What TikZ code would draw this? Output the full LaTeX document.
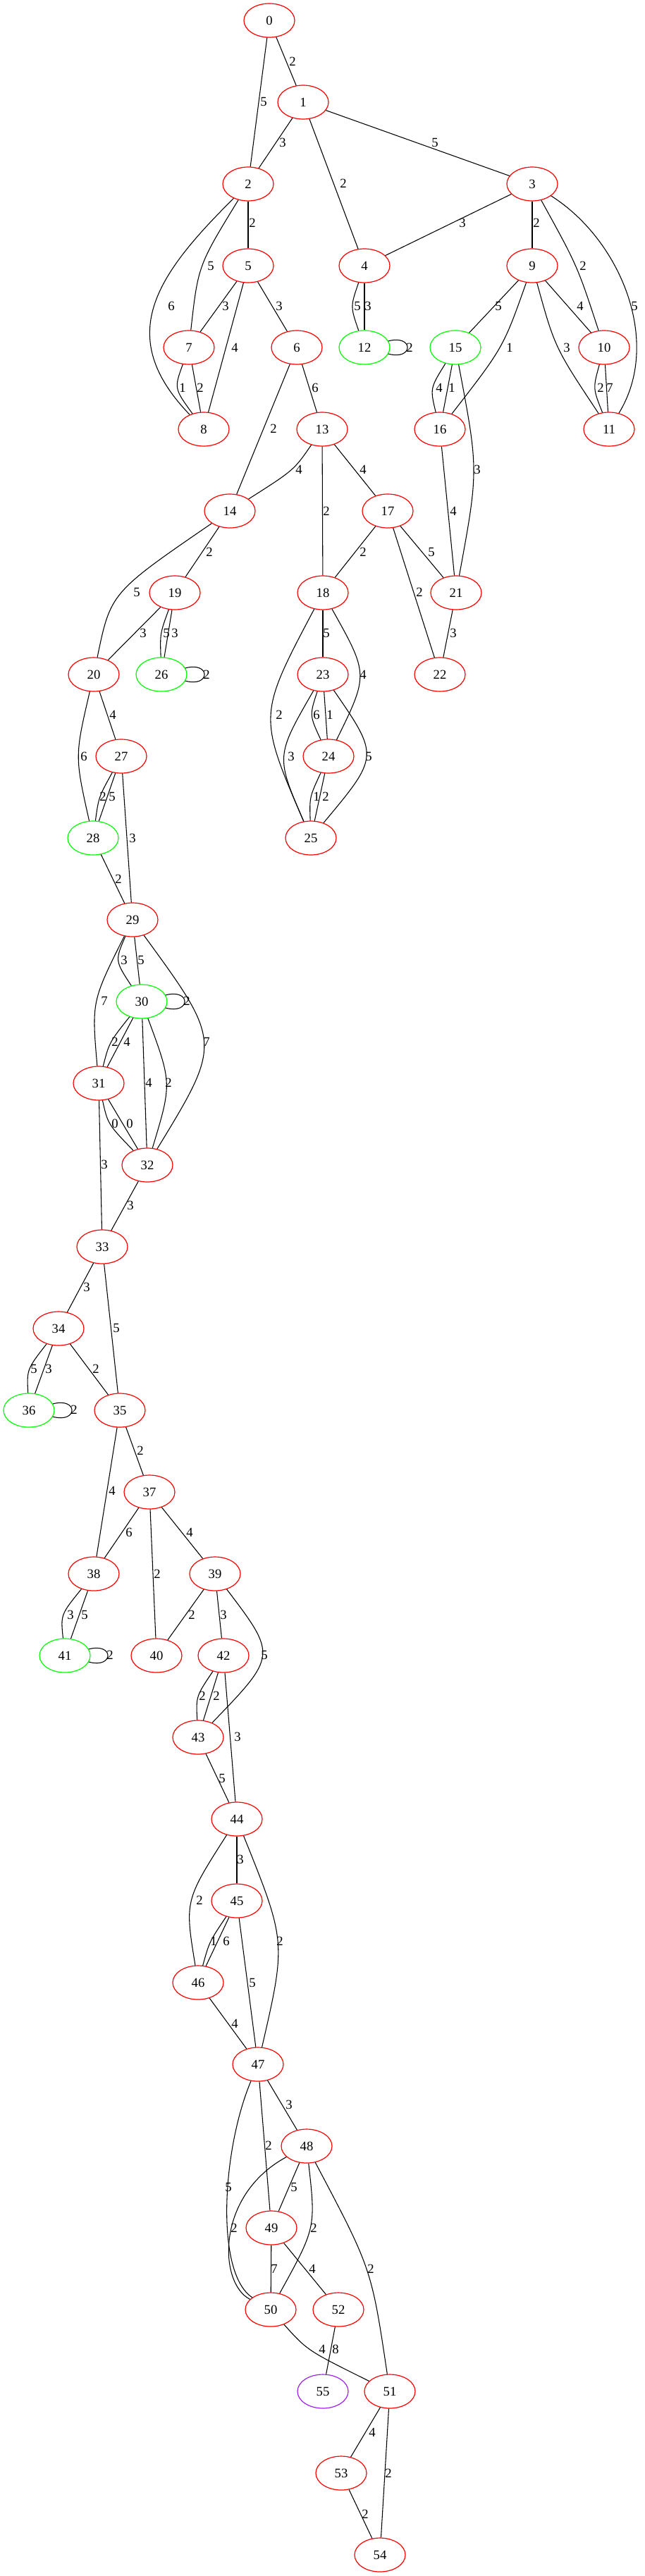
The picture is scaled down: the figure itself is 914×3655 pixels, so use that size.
\documentclass[tikz,border=0pt]{standalone}
\usepackage{fontspec}
\setmainfont{Liberation Serif}
\usepackage{tikz}
\usetikzlibrary{shapes.geometric, positioning}
\definecolor{VtxRed}{HTML}{FF0000}
\definecolor{VtxGreen}{HTML}{00FF00}
\definecolor{VtxPurple}{HTML}{A020F0}

\begin{document}
\begin{tikzpicture}[
    x=0.75pt, y=-0.75pt,
    vtx/.style={ellipse, draw=VtxRed, line width=0.9pt, minimum width=54pt, minimum height=36pt,
                inner sep=0pt, font=\fontsize{14pt}{16pt}\selectfont},
    vtxok/.style={vtx, draw=VtxGreen},
    vtxend/.style={vtx, draw=VtxPurple},
    wt/.style={inner sep=0pt, font=\fontsize{14pt}{16pt}\selectfont},
    selfloop/.style={out=15, in=-15, min distance=28pt},
    every path/.style={line width=0.8pt}
]
    \useasboundingbox (0,0) rectangle (914,3655);

    % Vertices
    \node[vtx] (n0) at (382,29) {0};
    \node[vtx] (n1) at (430,145) {1};
    \node[vtx] (n2) at (352,261) {2};
    \node[vtx] (n3) at (755,261) {3};
    \node[vtx] (n5) at (352,377) {5};
    \node[vtx] (n4) at (517,377) {4};
    \node[vtx] (n9) at (755,377) {9};
    \node[vtx] (n7) at (268,493) {7};
    \node[vtx] (n6) at (421,493) {6};
    \node[vtxok] (n12) at (517,493) {12};
    \node[vtxok] (n15) at (646,493) {15};
    \node[vtx] (n10) at (857,493) {10};
    \node[vtx] (n8) at (289,609) {8};
    \node[vtx] (n13) at (457,609) {13};
    \node[vtx] (n16) at (624,609) {16};
    \node[vtx] (n11) at (864,609) {11};
    \node[vtx] (n14) at (326,725) {14};
    \node[vtx] (n17) at (550,725) {17};
    \node[vtx] (n19) at (248,841) {19};
    \node[vtx] (n18) at (458,841) {18};
    \node[vtx] (n21) at (647,841) {21};
    \node[vtx] (n20) at (133,957) {20};
    \node[vtxok] (n26) at (229,957) {26};
    \node[vtx] (n23) at (458,957) {23};
    \node[vtx] (n22) at (624,957) {22};
    \node[vtx] (n27) at (172,1073) {27};
    \node[vtx] (n24) at (466,1073) {24};
    \node[vtxok] (n28) at (132,1189) {28};
    \node[vtx] (n25) at (441,1189) {25};
    \node[vtx] (n29) at (188,1305) {29};
    \node[vtxok] (n30) at (201,1421) {30};
    \node[vtx] (n31) at (140,1537) {31};
    \node[vtx] (n32) at (209,1653) {32};
    \node[vtx] (n33) at (145,1769) {33};
    \node[vtx] (n34) at (83,1885) {34};
    \node[vtxok] (n36) at (41,2001) {36};
    \node[vtx] (n35) at (170,2001) {35};
    \node[vtx] (n37) at (212,2117) {37};
    \node[vtx] (n38) at (133,2233) {38};
    \node[vtx] (n39) at (305,2233) {39};
    \node[vtxok] (n41) at (92,2349) {41};
    \node[vtx] (n40) at (222,2349) {40};
    \node[vtx] (n42) at (317,2349) {42};
    \node[vtx] (n43) at (281,2465) {43};
    \node[vtx] (n44) at (336,2581) {44};
    \node[vtx] (n45) at (336,2697) {45};
    \node[vtx] (n46) at (281,2813) {46};
    \node[vtx] (n47) at (366,2929) {47};
    \node[vtx] (n48) at (435,3045) {48};
    \node[vtx] (n49) at (385,3161) {49};
    \node[vtx] (n50) at (384,3277) {50};
    \node[vtx] (n52) at (480,3277) {52};
    \node[vtxend] (n55) at (458,3393) {55};
    \node[vtx] (n51) at (553,3393) {51};
    \node[vtx] (n53) at (484,3509) {53};
    \node[vtx] (n54) at (539,3625) {54};

    % Upper block
    \draw (n0) -- (n1) node[wt] at (415,87) {2};
    \draw (n0) -- (n2) node[wt] at (374,144) {5};
    \draw (n1) -- (n2) node[wt] at (401,202) {3};
    \draw (n1) -- (n4) node[wt] at (487,260) {2};
    \draw (n1) -- (n3) node[wt] at (617,202) {5};
    \draw (n2) -- (n5) node[wt] at (358,316) {2};
    \draw (n2) .. controls (281,377) .. (n7) node[wt] at (299,377) {5};
    \draw (n2) .. controls (220,392) and (162,477) .. (n8) node[wt] at (243,434) {6};
    \draw (n3) -- (n4) node[wt] at (656,316) {3};
    \draw (n3) -- (n9) node[wt] at (761,316) {2};
    \draw (n3) .. controls (819,377) .. (n10) node[wt] at (827,377) {2};
    \draw (n3) .. controls (880,340) and (940,485) .. (n11) node[wt] at (900,434) {5};
    \draw (n9) -- (n15) node[wt] at (707,434) {5};
    \draw (n9) .. controls (714,493) .. (n16) node[wt] at (723,493) {1};
    \draw (n9) -- (n10) node[wt] at (823,434) {4};
    \draw (n9) .. controls (787,493) .. (n11) node[wt] at (804,493) {3};
    \draw (n10) .. controls (841,551) .. (n11) node[wt] at (852,550) {2};
    \draw (n10) -- (n11) node[wt] at (865,550) {7};
    \draw (n4) .. controls (497,435) .. (n12) node[wt] at (507,434) {5};
    \draw (n4) -- (n12) node[wt] at (522,434) {3};
    \draw (n12) to[selfloop] (n12) node[wt] at (581,493) {2};
    \draw (n5) -- (n7) node[wt] at (320,434) {3};
    \draw (n5) -- (n8) node[wt] at (333,493) {4};
    \draw (n5) -- (n6) node[wt] at (396,434) {3};
    \draw (n6) -- (n14) node[wt] at (388,608) {2};
    \draw (n6) -- (n13) node[wt] at (447,550) {6};
    \draw (n7) .. controls (247,551) .. (n8) node[wt] at (259,550) {1};
    \draw (n7) -- (n8) node[wt] at (284,550) {2};
    \draw (n15) .. controls (610,551) .. (n16) node[wt] at (623,550) {4};
    \draw (n15) -- (n16) node[wt] at (641,550) {1};
    \draw (n15) .. controls (679,667) .. (n21) node[wt] at (677,666) {3};
    \draw (n16) -- (n21) node[wt] at (643,725) {4};

    % Middle block
    \draw (n13) .. controls (417,667) .. (n14) node[wt] at (424,666) {4};
    \draw (n13) -- (n18) node[wt] at (463,725) {2};
    \draw (n13) -- (n17) node[wt] at (515,666) {4};
    \draw (n14) -- (n19) node[wt] at (297,783) {2};
    \draw (n14) .. controls (157,841) .. (n20) node[wt] at (194,840) {5};
    \draw (n17) -- (n18) node[wt] at (515,783) {2};
    \draw (n17) -- (n21) node[wt] at (612,783) {5};
    \draw (n17) -- (n22) node[wt] at (595,840) {2};
    \draw (n21) -- (n22) node[wt] at (643,898) {3};
    \draw (n18) -- (n23) node[wt] at (463,898) {5};
    \draw (n18) .. controls (523,957) .. (n24) node[wt] at (515,957) {4};
    \draw (n18) .. controls (366,1015) .. (n25) node[wt] at (396,1014) {2};
    \draw (n23) .. controls (391,1073) .. (n25) node[wt] at (413,1073) {3};
    \draw (n23) .. controls (439,1015) .. (n24) node[wt] at (449,1014) {6};
    \draw (n23) -- (n24) node[wt] at (468,1014) {1};
    \draw (n23) .. controls (538,1073) .. (n25) node[wt] at (523,1073) {5};
    \draw (n24) .. controls (439,1131) .. (n25) node[wt] at (449,1130) {1};
    \draw (n24) -- (n25) node[wt] at (462,1130) {2};
    \draw (n19) -- (n20) node[wt] at (203,898) {3};
    \draw (n19) .. controls (227,899) .. (n26) node[wt] at (236,898) {5};
    \draw (n19) -- (n26) node[wt] at (248,898) {3};
    \draw (n26) to[selfloop] (n26) node[wt] at (293,957) {2};
    \draw (n20) -- (n27) node[wt] at (160,1014) {4};
    \draw (n20) .. controls (106,1073) .. (n28) node[wt] at (119,1073) {6};
    \draw (n27) .. controls (140,1131) .. (n28) node[wt] at (146,1130) {2};
    \draw (n27) -- (n28) node[wt] at (159,1130) {5};
    \draw (n27) -- (n29) node[wt] at (188,1189) {3};
    \draw (n28) -- (n29) node[wt] at (168,1247) {2};

    % Chain 29 -- 36
    \draw (n29) .. controls (163,1363) .. (n30) node[wt] at (176,1362) {3};
    \draw (n29) -- (n30) node[wt] at (200,1362) {5};
    \draw (n29) .. controls (130,1421) .. (n31) node[wt] at (148,1420) {7};
    \draw (n29) .. controls (315,1479) .. (n32) node[wt] at (293,1478) {7};
    \draw (n30) to[selfloop] (n30) node[wt] at (265,1420) {2};
    \draw (n30) .. controls (155,1479) .. (n31) node[wt] at (163,1478) {2};
    \draw (n30) -- (n31) node[wt] at (180,1478) {4};
    \draw (n30) -- (n32) node[wt] at (211,1536) {4};
    \draw (n30) .. controls (244,1537) .. (n32) node[wt] at (239,1536) {2};
    \draw (n31) .. controls (153,1595) .. (n32) node[wt] at (163,1594) {0};
    \draw (n31) -- (n32) node[wt] at (184,1594) {0};
    \draw (n31) -- (n33) node[wt] at (148,1652) {3};
    \draw (n32) -- (n33) node[wt] at (185,1710) {3};
    \draw (n33) -- (n34) node[wt] at (123,1826) {3};
    \draw (n33) -- (n35) node[wt] at (165,1884) {5};
    \draw (n34) .. controls (38,1943) .. (n36) node[wt] at (48,1942) {5};
    \draw (n34) -- (n36) node[wt] at (69,1942) {3};
    \draw (n34) -- (n35) node[wt] at (136,1942) {2};
    \draw (n36) to[selfloop] (n36) node[wt] at (105,2000) {2};

    % Chain 35 -- 47
    \draw (n35) -- (n37) node[wt] at (199,2058) {2};
    \draw (n35) -- (n38) node[wt] at (159,2115) {4};
    \draw (n37) -- (n38) node[wt] at (183,2174) {6};
    \draw (n37) -- (n40) node[wt] at (223,2233) {2};
    \draw (n37) -- (n39) node[wt] at (269,2174) {4};
    \draw (n38) .. controls (86,2291) .. (n41) node[wt] at (100,2291) {3};
    \draw (n38) -- (n41) node[wt] at (120,2291) {5};
    \draw (n41) to[selfloop] (n41) node[wt] at (156,2348) {2};
    \draw (n39) -- (n40) node[wt] at (272,2291) {2};
    \draw (n39) -- (n42) node[wt] at (317,2291) {3};
    \draw (n39) .. controls (393,2349) .. (n43) node[wt] at (375,2348) {5};
    \draw (n42) .. controls (278,2407) .. (n43) node[wt] at (287,2406) {2};
    \draw (n42) -- (n43) node[wt] at (307,2406) {2};
    \draw (n42) -- (n44) node[wt] at (337,2464) {3};
    \draw (n43) -- (n44) node[wt] at (315,2523) {5};
    \draw (n44) -- (n45) node[wt] at (341,2638) {3};
    \draw (n44) .. controls (262,2697) .. (n46) node[wt] at (283,2696) {2};
    \draw (n44) .. controls (406,2755) .. (n47) node[wt] at (397,2754) {2};
    \draw (n45) .. controls (297,2755) .. (n46) node[wt] at (303,2754) {1};
    \draw (n45) -- (n46) node[wt] at (321,2754) {6};
    \draw (n45) -- (n47) node[wt] at (358,2813) {5};
    \draw (n46) -- (n47) node[wt] at (333,2871) {4};

    % Lower block
    \draw (n47) -- (n48) node[wt] at (410,2986) {3};
    \draw (n47) -- (n49) node[wt] at (381,3044) {2};
    \draw (n47) .. controls (315,3050) and (305,3225) .. (n50) node[wt] at (324,3103) {5};
    \draw (n48) -- (n49) node[wt] at (417,3103) {5};
    \draw (n48) .. controls (305,3115) and (310,3240) .. (n50) node[wt] at (332,3161) {2};
    \draw (n48) .. controls (448,3161) .. (n50) node[wt] at (445,3161) {2};
    \draw (n48) .. controls (527,3219) .. (n51) node[wt] at (526,3219) {2};
    \draw (n49) -- (n50) node[wt] at (389,3219) {7};
    \draw (n49) -- (n52) node[wt] at (443,3219) {4};
    \draw (n50) .. controls (436,3335) .. (n51) node[wt] at (457,3333) {4};
    \draw (n52) -- (n55) node[wt] at (476,3333) {8};
    \draw (n51) -- (n53) node[wt] at (528,3451) {4};
    \draw (n51) -- (n54) node[wt] at (551,3509) {2};
    \draw (n53) -- (n54) node[wt] at (518,3567) {2};
\end{tikzpicture}
\end{document}
